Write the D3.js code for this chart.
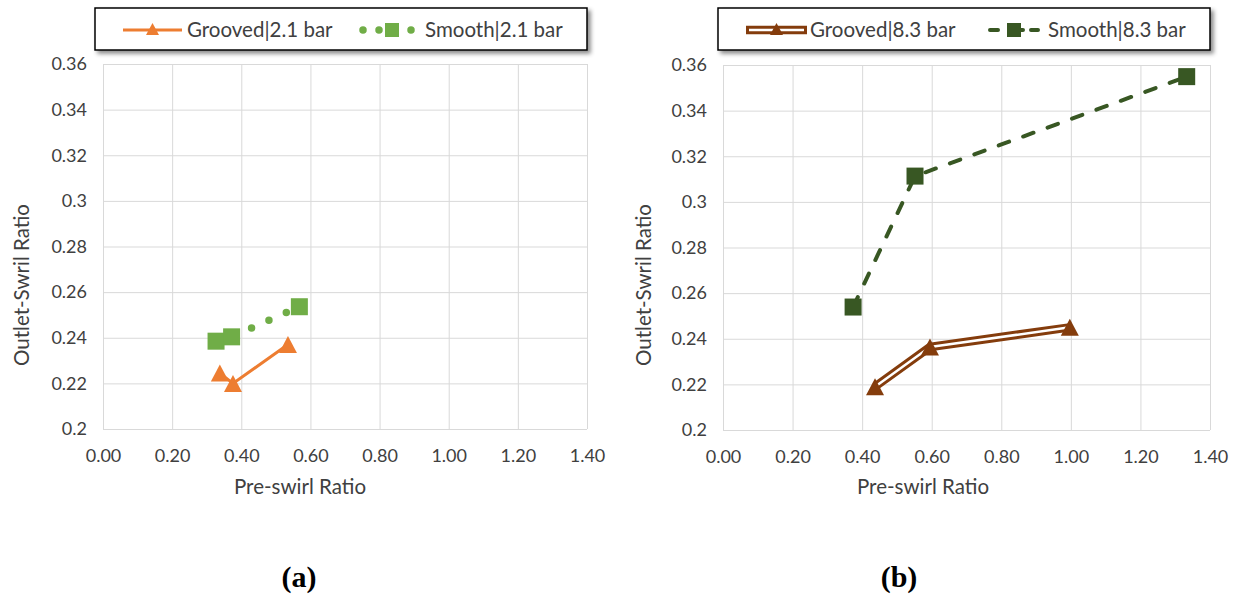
<!DOCTYPE html>
<html>
<head>
<meta charset="utf-8">
<script src="https://cdn.jsdelivr.net/npm/d3@7"></script>
<style>
  body { margin: 0; background: #fff; }
  svg { display: block; }
  text { font-family: Lato, "Open Sans", sans-serif; fill: #404040; }
  text.tag { font-family: "Liberation Serif", "Times New Roman", serif; fill: #000; font-weight: bold; }
</style>
</head>
<body>
<svg id="chart" width="1239" height="598"></svg>
<script>
// Axis ticks shared by both panels
const xTickValues = [0, 0.2, 0.4, 0.6, 0.8, 1.0, 1.2, 1.4];
const xTickLabels = ["0.00", "0.20", "0.40", "0.60", "0.80", "1.00", "1.20", "1.40"];
const yTickValues = [0.2, 0.22, 0.24, 0.26, 0.28, 0.3, 0.32, 0.34, 0.36];
const yTickLabels = ["0.2", "0.22", "0.24", "0.26", "0.28", "0.3", "0.32", "0.34", "0.36"];

// Panel (a): 2.1 bar
const groovedLowX = [0.338, 0.376, 0.535];
const groovedLowY = [0.2245, 0.2200, 0.2370];
const smoothLowX  = [0.327, 0.372, 0.568];
const smoothLowY  = [0.2385, 0.2404, 0.2536];

// Panel (b): 8.3 bar
const groovedHighX = [0.437, 0.595, 0.997];
const groovedHighY = [0.2190, 0.2364, 0.2450];
const smoothHighX  = [0.374, 0.552, 1.333];
const smoothHighY  = [0.2539, 0.3113, 0.3549];

const seriesNames = ["Grooved|2.1 bar", "Smooth|2.1 bar", "Grooved|8.3 bar", "Smooth|8.3 bar"];
const axisTitleX = "Pre-swirl Ratio";
const axisTitleY = "Outlet-Swril Ratio";
const panelTags = ["(a)", "(b)"];

const ORANGE = "#ED7D31", GREEN = "#70AD47", BROWN = "#843C0C", DKGREEN = "#385723";

const svg = d3.select("#chart");

const defs = svg.append("defs");
defs.append("filter").attr("id", "legendShadow")
  .attr("x", "-5%").attr("y", "-30%").attr("width", "115%").attr("height", "170%")
  .append("feDropShadow")
  .attr("dx", 3).attr("dy", 3).attr("stdDeviation", 2)
  .attr("flood-color", "#000").attr("flood-opacity", 0.45);

const zip = (xs, ys) => xs.map((x, i) => [x, ys[i]]);

function triangle(g, cx, cy, w, h, color) {
  g.append("path")
    .attr("d", `M${cx},${cy - h / 2} L${cx + w / 2},${cy + h / 2} L${cx - w / 2},${cy + h / 2} Z`)
    .attr("fill", color);
}
function square(g, cx, cy, s, color) {
  g.append("rect").attr("x", cx - s / 2).attr("y", cy - s / 2)
    .attr("width", s).attr("height", s).attr("fill", color);
}

// Line styles per series
const styles = {
  solidOrange: (p) => p.attr("stroke", ORANGE).attr("stroke-width", 3),
  dotGreen: (p) => p.attr("stroke", GREEN).attr("stroke-width", 7.5)
                    .attr("stroke-linecap", "round").attr("stroke-dasharray", "0,19"),
  dashDark: (p) => p.attr("stroke", DKGREEN).attr("stroke-width", 4)
                    .attr("stroke-linecap", "round").attr("stroke-dasharray", "11,15")
};

function drawPanel(cfg) {
  const x = d3.scaleLinear().domain([0, 1.4]).range([cfg.left, cfg.right]);
  const y = d3.scaleLinear().domain([0.2, 0.36]).range([cfg.bottom, cfg.top]);
  const g = svg.append("g");

  // Grid + tick labels
  const xAxis = d3.axisBottom(x).tickValues(xTickValues)
    .tickFormat((d, i) => xTickLabels[i])
    .tickSize(-(cfg.bottom - cfg.top)).tickPadding(20);
  const yAxis = d3.axisLeft(y).tickValues(yTickValues)
    .tickFormat((d, i) => yTickLabels[i])
    .tickSize(-(cfg.right - cfg.left)).tickPadding(16);

  const gx = g.append("g").attr("transform", `translate(0,${cfg.bottom})`).call(xAxis);
  const gy = g.append("g").attr("transform", `translate(${cfg.left},0)`).call(yAxis);
  [gx, gy].forEach(a => {
    a.select(".domain").remove();
    a.selectAll(".tick line").attr("stroke", "#D9D9D9").attr("stroke-width", 1);
    a.selectAll(".tick text").attr("font-size", 18).attr("fill", "#404040")
      .attr("font-family", "Lato, sans-serif");
  });

  // Axis titles
  g.append("text").attr("x", cfg.xTitleX).attr("y", 494)
    .attr("text-anchor", "middle").attr("font-size", 20.5).text(axisTitleX);
  g.append("text").attr("transform", `translate(${cfg.yTitleX},285) rotate(-90)`)
    .attr("text-anchor", "middle").attr("font-size", 20.5).text(axisTitleY);

  const line = d3.line().x(d => x(d[0])).y(d => y(d[1]));

  cfg.series.forEach(s => {
    const pts = zip(s.xs, s.ys);
    if (s.double) {
      g.append("path").attr("d", line(pts)).attr("fill", "none")
        .attr("stroke", s.color).attr("stroke-width", 8.5).attr("stroke-linejoin", "round");
      g.append("path").attr("d", line(pts)).attr("fill", "none")
        .attr("stroke", "#fff").attr("stroke-width", 2.5).attr("stroke-linejoin", "round");
    } else {
      styles[s.style](g.append("path").attr("d", line(pts)).attr("fill", "none"));
    }
    pts.forEach(p => {
      if (s.marker === "tri") triangle(g, x(p[0]), y(p[1]), 18, 17, s.color);
      else square(g, x(p[0]), y(p[1]), 17, s.color);
    });
  });

  // Legend
  const lg = g.append("g");
  lg.append("rect").attr("x", cfg.legend.x).attr("y", 8)
    .attr("width", cfg.legend.w).attr("height", 42)
    .attr("fill", "#fff").attr("stroke", "#000").attr("stroke-width", 1.5)
    .attr("filter", "url(#legendShadow)");
  const ly = 30;
  cfg.series.forEach((s, i) => {
    const it = cfg.legend.items[i];
    if (s.double) {
      lg.append("line").attr("x1", it.x0).attr("x2", it.x1).attr("y1", ly).attr("y2", ly)
        .attr("stroke", s.color).attr("stroke-width", 8.5);
      lg.append("line").attr("x1", it.x0 + 3).attr("x2", it.x1 - 3).attr("y1", ly).attr("y2", ly)
        .attr("stroke", "#fff").attr("stroke-width", 2.5);
    } else {
      const l = lg.append("line").attr("x1", it.x0).attr("x2", it.x1).attr("y1", ly).attr("y2", ly);
      styles[s.style](l);
      if (it.dash) l.attr("stroke-dasharray", it.dash);
    }
    const mx = (it.x0 + it.x1) / 2;
    if (s.marker === "tri") triangle(lg, mx, ly - 1, 13, 12, s.color);
    else square(lg, mx, ly, 14, s.color);
    lg.append("text").attr("x", it.tx).attr("y", ly + 7)
      .attr("font-size", 20.5).text(s.name);
  });

  // Panel tag
  svg.append("text").attr("class", "tag").attr("x", cfg.tagX).attr("y", 587)
    .attr("text-anchor", "middle").attr("font-size", 30).text(cfg.tag);
}

drawPanel({
  left: 103, right: 587, top: 64, bottom: 429,
  xTitleX: 300, yTitleX: 29, tag: panelTags[0], tagX: 299,
  legend: { x: 95, w: 492, items: [
    { x0: 123, x1: 182, tx: 187 },
    { x0: 363, x1: 421, tx: 425, dash: "0,16" }
  ] },
  series: [
    { name: seriesNames[0], xs: groovedLowX, ys: groovedLowY, color: ORANGE, marker: "tri", style: "solidOrange" },
    { name: seriesNames[1], xs: smoothLowX, ys: smoothLowY, color: GREEN, marker: "sq", style: "dotGreen" }
  ]
});

drawPanel({
  left: 723, right: 1210, top: 65, bottom: 430,
  xTitleX: 923, yTitleX: 651, tag: panelTags[1], tagX: 899,
  legend: { x: 718, w: 492, items: [
    { x0: 746, x1: 807, tx: 810 },
    { x0: 990, x1: 1038, tx: 1048, dash: "8,17,8" }
  ] },
  series: [
    { name: seriesNames[2], xs: groovedHighX, ys: groovedHighY, color: BROWN, marker: "tri", double: true },
    { name: seriesNames[3], xs: smoothHighX, ys: smoothHighY, color: DKGREEN, marker: "sq", style: "dashDark" }
  ]
});
</script>
</body>
</html>
